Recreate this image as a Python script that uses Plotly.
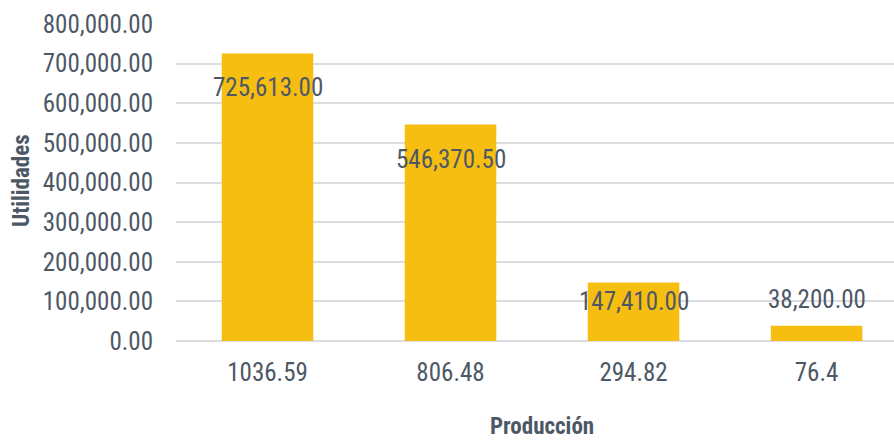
import plotly.graph_objects as go

categories = ["1036.59", "806.48", "294.82", "76.4"]
utilidades = [725613.00, 546370.50, 147410.00, 38200.00]
y_ticks = [0, 100000, 200000, 300000, 400000, 500000, 600000, 700000, 800000]
y_tick_text = ["{:,.2f}".format(v) for v in y_ticks]
label_text = ["{:,.2f}".format(v) for v in utilidades]
label_shift = [-34, -35, -19, 26]  # pixel offsets of the data labels

FONT = "Roboto Condensed, DejaVu Sans Condensed, sans-serif"
TXT = "#4D5866"

fig = go.Figure()
fig.add_trace(go.Bar(
    x=categories, y=utilidades,
    marker=dict(color="#F7BE12", line=dict(width=0)),
    hoverinfo="skip",
))

for i, (v, t, s) in enumerate(zip(utilidades, label_text, label_shift)):
    fig.add_annotation(xref="x", yref="y", x=i, y=v, text=t, showarrow=False, yshift=s,
                       xanchor="center", yanchor="middle",
                       font=dict(family=FONT, size=25, color=TXT))

fig.add_annotation(xref="x", yref="paper", x=1.5, y=-0.271, text="<b>Producción</b>",
                   showarrow=False, xanchor="center", yanchor="middle",
                   font=dict(family=FONT, size=23, color=TXT))
fig.add_annotation(xref="paper", yref="paper", x=-0.2145, y=0.508, text="<b>Utilidades</b>",
                   showarrow=False, textangle=-90, xanchor="center", yanchor="middle",
                   font=dict(family=FONT, size=23, color=TXT))

fig.update_layout(
    width=894, height=441,
    margin=dict(l=176, r=0, t=24, b=100),
    paper_bgcolor="white", plot_bgcolor="white",
    bargap=0.5, showlegend=False,
    font=dict(family=FONT, size=25, color=TXT),
)
fig.update_xaxes(type="category", range=[-0.5, 3.423], showgrid=False, showline=False,
                 ticks="", ticklabelstandoff=14,
                 tickfont=dict(family=FONT, size=25, color=TXT))
fig.update_yaxes(range=[0, 800000], tickvals=y_ticks, ticktext=y_tick_text,
                 showgrid=True, gridcolor="#DADDE2", gridwidth=1.5,
                 zeroline=True, zerolinecolor="#DADDE2", zerolinewidth=1.5,
                 showline=False, ticks="", ticklabelstandoff=22,
                 tickfont=dict(family=FONT, size=25, color=TXT))

fig.write_html("out.html")
